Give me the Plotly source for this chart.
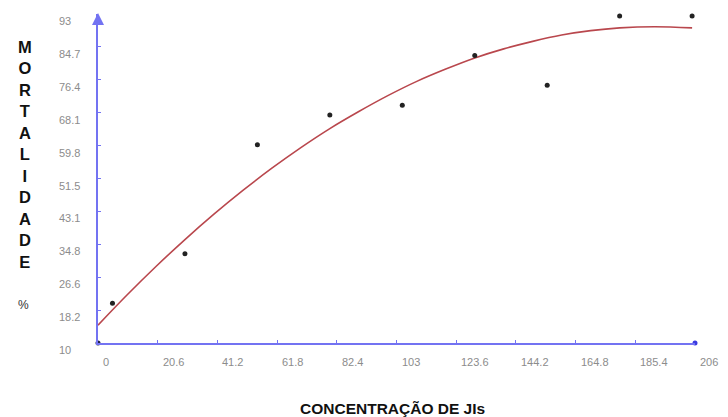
import plotly.graph_objects as go

# ---- data ----
conc = [5, 30, 55, 80, 105, 130, 155, 180, 205]
mortality = [20, 32.5, 60, 67.5, 70, 82.5, 75, 92.5, 92.5]

# trend curve
curve_x = [0, 10, 20, 30, 40, 50, 60, 70, 80, 90, 100, 110, 120, 130, 140, 150, 160, 170, 180, 192, 205]
curve_y = [14.5, 22.1, 29.3, 36.1, 42.5, 48.5, 54.1, 59.3, 64.1, 68.4, 72.4, 76.0, 79.1, 81.9,
           84.2, 86.1, 87.7, 88.8, 89.5, 89.8, 89.5]

x_tick_vals = [0, 20.6, 41.2, 61.8, 82.4, 103, 123.6, 144.2, 164.8, 185.4, 206]
x_tick_text = ["0", "20.6", "41.2", "61.8", "82.4", "103", "123.6", "144.2", "164.8", "185.4", "206"]
y_tick_vals = [10, 18.3, 26.6, 34.9, 43.2, 51.5, 59.8, 68.1, 76.4, 84.7, 93]
y_tick_text = ["10", "18.2", "26.6", "34.8", "43.1", "51.5", "59.8", "68.1", "76.4", "84.7", "93"]

x_range = [0, 206]
y_range = [10, 93]

W, H = 728, 417
L, R, T, B = 98, 33, 14, 74
PW, PH = W - L - R, H - T - B

def px(xp):
    return (xp - L) / PW

def py(yp):
    return (H - B - yp) / PH

axis_blue = "#7373f2"
label_grey = "#8c8c8c"
font_fam = "Liberation Sans, Arial, sans-serif"

fig = go.Figure()

fig.add_trace(go.Scatter(
    x=curve_x, y=curve_y, mode="lines", line=dict(color="#b9474d", width=1.6, shape="spline", smoothing=1.0),
    hoverinfo="skip", showlegend=False))

fig.add_trace(go.Scatter(
    x=conc, y=mortality, mode="markers", marker=dict(color="#222222", size=5),
    cliponaxis=False, showlegend=False))

# axis end decorations
fig.add_trace(go.Scatter(
    x=[x_range[1]], y=[y_range[0]], mode="markers", marker=dict(color="#3a3ae0", size=5),
    cliponaxis=False, showlegend=False, hoverinfo="skip"))
fig.add_trace(go.Scatter(
    x=[x_range[0]], y=[y_range[0]], mode="markers", marker=dict(color="#222244", size=5),
    cliponaxis=False, showlegend=False, hoverinfo="skip"))

annotations = []
for v, t in zip(x_tick_vals, x_tick_text):
    annotations.append(dict(x=v, xref="x", y=0, yref="paper", text=t, showarrow=False,
                            xanchor="left", yanchor="middle", xshift=3, yshift=-19,
                            font=dict(family=font_fam, size=11, color=label_grey)))
for v, t in zip(y_tick_vals, y_tick_text):
    annotations.append(dict(x=px(57), xref="paper", y=v, yref="y", text=t, showarrow=False,
                            xanchor="left", yanchor="middle", yshift=-7,
                            font=dict(family=font_fam, size=11, color=label_grey)))

# arrow on top of y axis
annotations.append(dict(x=x_range[0], xref="x", y=y_range[1], yref="y", ax=0, ay=12,
                        showarrow=True, arrowhead=2, arrowsize=1.2, arrowwidth=2,
                        arrowcolor=axis_blue, text="", yshift=1))

annotations.append(dict(x=px(25), xref="paper", y=py(154.5), yref="paper",
                        text="<br>".join(list("MORTALIDADE")), showarrow=False,
                        xanchor="center", yanchor="middle",
                        font=dict(family=font_fam, size=16.5, color="#111111", weight="bold")))
annotations.append(dict(x=px(23), xref="paper", y=py(305), yref="paper", text="%", showarrow=False,
                        xanchor="center", yanchor="middle",
                        font=dict(family=font_fam, size=12, color="#333333")))
annotations.append(dict(x=px(392), xref="paper", y=py(408), yref="paper", text="CONCENTRAÇÃO DE JIs",
                        showarrow=False, xanchor="center", yanchor="middle",
                        font=dict(family=font_fam, size=15.5, color="#111111", weight="bold")))

fig.update_layout(
    width=W, height=H, margin=dict(l=L, r=R, t=T, b=B),
    paper_bgcolor="white", plot_bgcolor="white",
    annotations=annotations,
    xaxis=dict(range=x_range, showgrid=False, zeroline=False, showline=True, linecolor=axis_blue,
               linewidth=2, ticks="inside", ticklen=3, tickcolor=axis_blue, tickwidth=1,
               tickvals=x_tick_vals, showticklabels=False),
    yaxis=dict(range=y_range, showgrid=False, zeroline=False, showline=True, linecolor=axis_blue,
               linewidth=2, ticks="inside", ticklen=3, tickcolor=axis_blue, tickwidth=1,
               tickvals=y_tick_vals, showticklabels=False),
)

fig.write_html("out.html", config={"displayModeBar": False},
               post_script="document.body.style.margin='0';document.body.style.overflow='hidden';")
